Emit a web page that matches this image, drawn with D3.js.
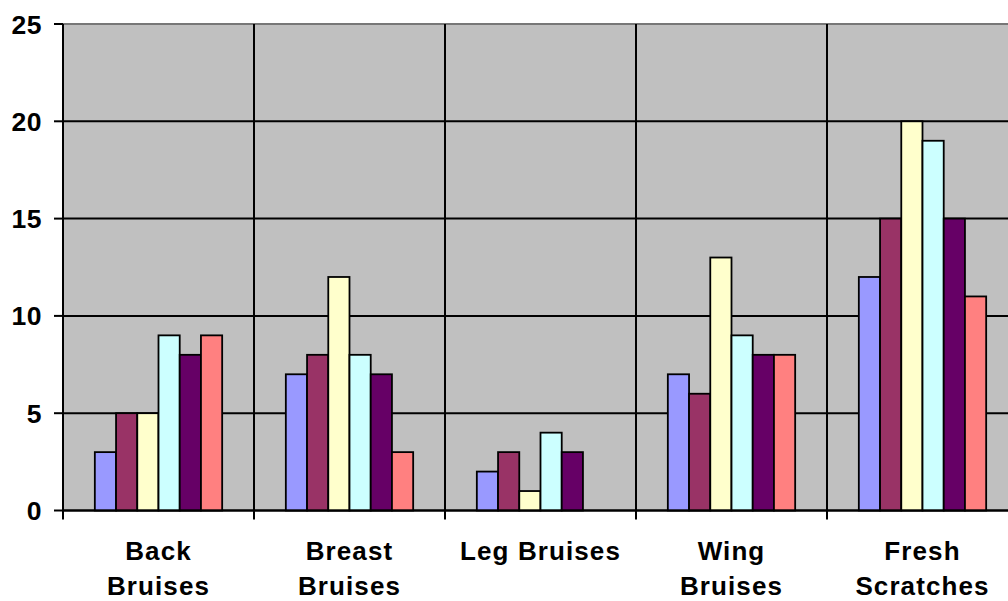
<!DOCTYPE html>
<html>
<head>
<meta charset="utf-8">
<script src="https://cdn.jsdelivr.net/npm/d3@7"></script>
<style>
  body { margin: 0; background: #fff; }
  svg { display: block; }
  text { font-family: "Liberation Sans", Arial, sans-serif; font-weight: bold; fill: #000; }
</style>
</head>
<body>
<div id="chart"></div>
<script>
// categorias y series
const categories = [["Back", "Bruises"], ["Breast", "Bruises"], ["Leg Bruises"], ["Wing", "Bruises"], ["Fresh", "Scratches"]];
const series1 = [3, 7, 2, 7, 12];
const series2 = [5, 8, 3, 6, 15];
const series3 = [5, 12, 1, 13, 20];
const series4 = [9, 8, 4, 9, 19];
const series5 = [8, 7, 3, 8, 15];
const series6 = [9, 3, null, 8, 11];
const yTicks = [0, 5, 10, 15, 20, 25];
const colors = ["#9999FF", "#993366", "#FFFFCC", "#CCFFFF", "#660066", "#FF8080"];

const allSeries = [series1, series2, series3, series4, series5, series6];

const width = 1008, height = 601;
const plot = { left: 63, top: 24, bottom: 510.5, band: 191 };

const svg = d3.select("#chart")
    .append("svg")
    .attr("width", width)
    .attr("height", height);

// Escalas
const x0 = d3.scaleBand()
    .domain(d3.range(categories.length))
    .range([plot.left, plot.left + plot.band * categories.length])
    .padding(0);

const x1 = d3.scaleBand()
    .domain(d3.range(allSeries.length))
    .range([0, x0.bandwidth()])
    .paddingInner(0)
    .paddingOuter(1.5);

const y = d3.scaleLinear()
    .domain([0, 25])
    .range([plot.bottom, plot.top]);

// Fondo del area de trazado
svg.append("rect")
    .attr("x", plot.left)
    .attr("y", plot.top)
    .attr("width", x0.range()[1] - plot.left)
    .attr("height", plot.bottom - plot.top)
    .attr("fill", "#C0C0C0");

// Lineas de cuadricula horizontales
svg.append("g")
    .selectAll("line")
    .data(yTicks)
    .enter()
    .append("line")
    .attr("x1", plot.left)
    .attr("x2", x0.range()[1])
    .attr("y1", d => y(d))
    .attr("y2", d => y(d))
    .attr("stroke", d => d === 25 ? "#777" : "#000")
    .attr("stroke-width", 2);

// Lineas verticales entre categorias
svg.append("g")
    .selectAll("line")
    .data(d3.range(1, categories.length))
    .enter()
    .append("line")
    .attr("x1", d => x0(d))
    .attr("x2", d => x0(d))
    .attr("y1", plot.top)
    .attr("y2", plot.bottom)
    .attr("stroke", "#000")
    .attr("stroke-width", 2);

// Barras
const groups = svg.append("g")
    .selectAll("g")
    .data(categories.map((c, i) => i))
    .enter()
    .append("g")
    .attr("transform", i => `translate(${x0(i)},0)`);

groups.selectAll("rect")
    .data(i => allSeries.map((s, k) => ({ k, v: s[i] })).filter(d => d.v != null))
    .enter()
    .append("rect")
    .attr("x", d => x1(d.k))
    .attr("y", d => y(d.v))
    .attr("width", x1.bandwidth())
    .attr("height", d => y(0) - y(d.v))
    .attr("fill", d => colors[d.k])
    .attr("stroke", "#000")
    .attr("stroke-width", 1.8);

// Eje Y
svg.append("line")
    .attr("x1", plot.left).attr("x2", plot.left)
    .attr("y1", plot.top).attr("y2", plot.bottom)
    .attr("stroke", "#000").attr("stroke-width", 2);

svg.append("g")
    .selectAll("line")
    .data(yTicks)
    .enter()
    .append("line")
    .attr("x1", plot.left - 9)
    .attr("x2", plot.left)
    .attr("y1", d => y(d))
    .attr("y2", d => y(d))
    .attr("stroke", "#000")
    .attr("stroke-width", 2);

svg.append("g")
    .selectAll("text")
    .data(yTicks)
    .enter()
    .append("text")
    .attr("x", 42)
    .attr("y", d => y(d))
    .attr("dy", "0.36em")
    .attr("text-anchor", "end")
    .attr("font-size", "26.5px")
    .attr("letter-spacing", "0.5px")
    .text(d => d);

// Eje X
svg.append("line")
    .attr("x1", plot.left).attr("x2", x0.range()[1])
    .attr("y1", plot.bottom).attr("y2", plot.bottom)
    .attr("stroke", "#000").attr("stroke-width", 2);

svg.append("g")
    .selectAll("line")
    .data(d3.range(categories.length))
    .enter()
    .append("line")
    .attr("x1", d => x0(d))
    .attr("x2", d => x0(d))
    .attr("y1", plot.bottom)
    .attr("y2", plot.bottom + 9)
    .attr("stroke", "#000")
    .attr("stroke-width", 2);

// Etiquetas de categorias
const labels = svg.append("g")
    .selectAll("text")
    .data(categories)
    .enter()
    .append("text")
    .attr("text-anchor", "middle")
    .attr("font-size", "26px")
    .attr("letter-spacing", "1.1px")
    .attr("x", (d, i) => x0(i) + x0.bandwidth() / 2)
    .attr("y", 560);

labels.selectAll("tspan")
    .data(d => d)
    .enter()
    .append("tspan")
    .attr("x", function () { return this.parentNode.getAttribute("x"); })
    .attr("dy", (d, i) => i === 0 ? 0 : 35)
    .text(d => d);
</script>
</body>
</html>
